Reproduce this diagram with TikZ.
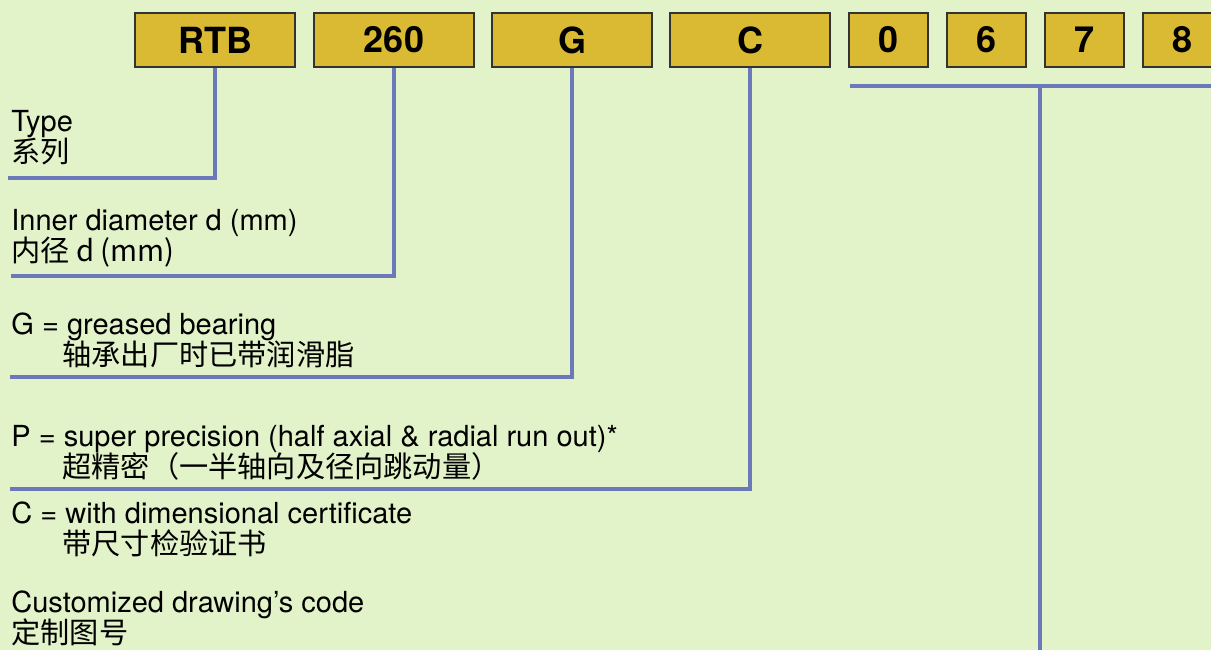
\documentclass[tikz,border=0pt]{standalone}
\usepackage{fontspec}
\setmainfont{TeX Gyre Heros}
\newfontfamily\cjk{Noto Sans CJK SC}
\definecolor{bgcol}{HTML}{E2F2C9}
\definecolor{boxcol}{HTML}{DBBA33}
\definecolor{leadcol}{HTML}{6B78BA}
\tikzset{
  codebox/.style={draw=black!80, line width=0.6pt, fill=boxcol, minimum width=80pt,
    minimum height=27pt, inner sep=0pt, font=\fontsize{18}{18}\selectfont\bfseries},
  digitbox/.style={codebox, minimum width=39.5pt},
  leader/.style={leadcol, line width=2pt},
  entxt/.style={anchor=base west, inner sep=0pt, font=\fontsize{14.5}{16}\selectfont},
  zhtxt/.style={anchor=base west, inner sep=0pt, font=\fontsize{14.6}{16}\selectfont\cjk},
}
\begin{document}
\begin{tikzpicture}[x=0.5pt,y=-0.5pt]
\fill[bgcol] (0,0) rectangle (1211,650);
\useasboundingbox (0,0) rectangle (1211,650);
\clip (0,0) rectangle (1211,650);

% code boxes
\node[codebox] (rtb) at (215,40) {RTB};
\node[codebox] (dia) at (394,40) {260};
\node[codebox] (grs) at (572,40) {G};
\node[codebox] (cert) at (750,40) {C};
\node[digitbox] (dga) at (888.5,40) {0};
\node[digitbox] (dgb) at (986.5,40) {6};
\node[digitbox] (dgc) at (1084.5,40) {7};
\node[digitbox] (dgd) at (1182.5,40) {8};

% leader ends
\coordinate (typeend) at (8,178);
\coordinate (diaend) at (11,276);
\coordinate (grsend) at (10,377);
\coordinate (certend) at (10,489);
\coordinate (digl) at (850,86);
\coordinate (digr) at (1211,86);
\coordinate (digmid) at (1040,86);
\coordinate (digfoot) at (1040,650);

\draw[leader] (rtb.south) |- (typeend);
\draw[leader] (dia.south) |- (diaend);
\draw[leader] (grs.south) |- (grsend);
\draw[leader] (cert.south) |- (certend);
\draw[leader] (digl) -- (digr);
\draw[leader] (digmid) -- (digfoot);

% descriptions
\node[entxt] (typeen) at (11,131) {Type};
\node[zhtxt] (typezh) at (11,162) {系列};
\node[entxt] (diaen) at (11,230) {Inner diameter d (mm)};
\node[zhtxt] (diazh) at (11,261) {内径 d (mm)};
\node[entxt] (grsen) at (11,334) {G = greased bearing};
\node[zhtxt] (grszh) at (62,365) {轴承出厂时已带润滑脂};
\node[entxt] (precen) at (11,446) {P = super precision (half axial \& radial run out)*};
\node[zhtxt] (preczh) at (62,477) {超精密（一半轴向及径向跳动量）};
\node[entxt] (certen) at (11,523) {C = with dimensional certificate};
\node[zhtxt] (certzh) at (62,554) {带尺寸检验证书};
\node[entxt] (drwen) at (11,612) {Customized drawing’s code};
\node[zhtxt] (drwzh) at (11,643) {定制图号};
\end{tikzpicture}
\end{document}
